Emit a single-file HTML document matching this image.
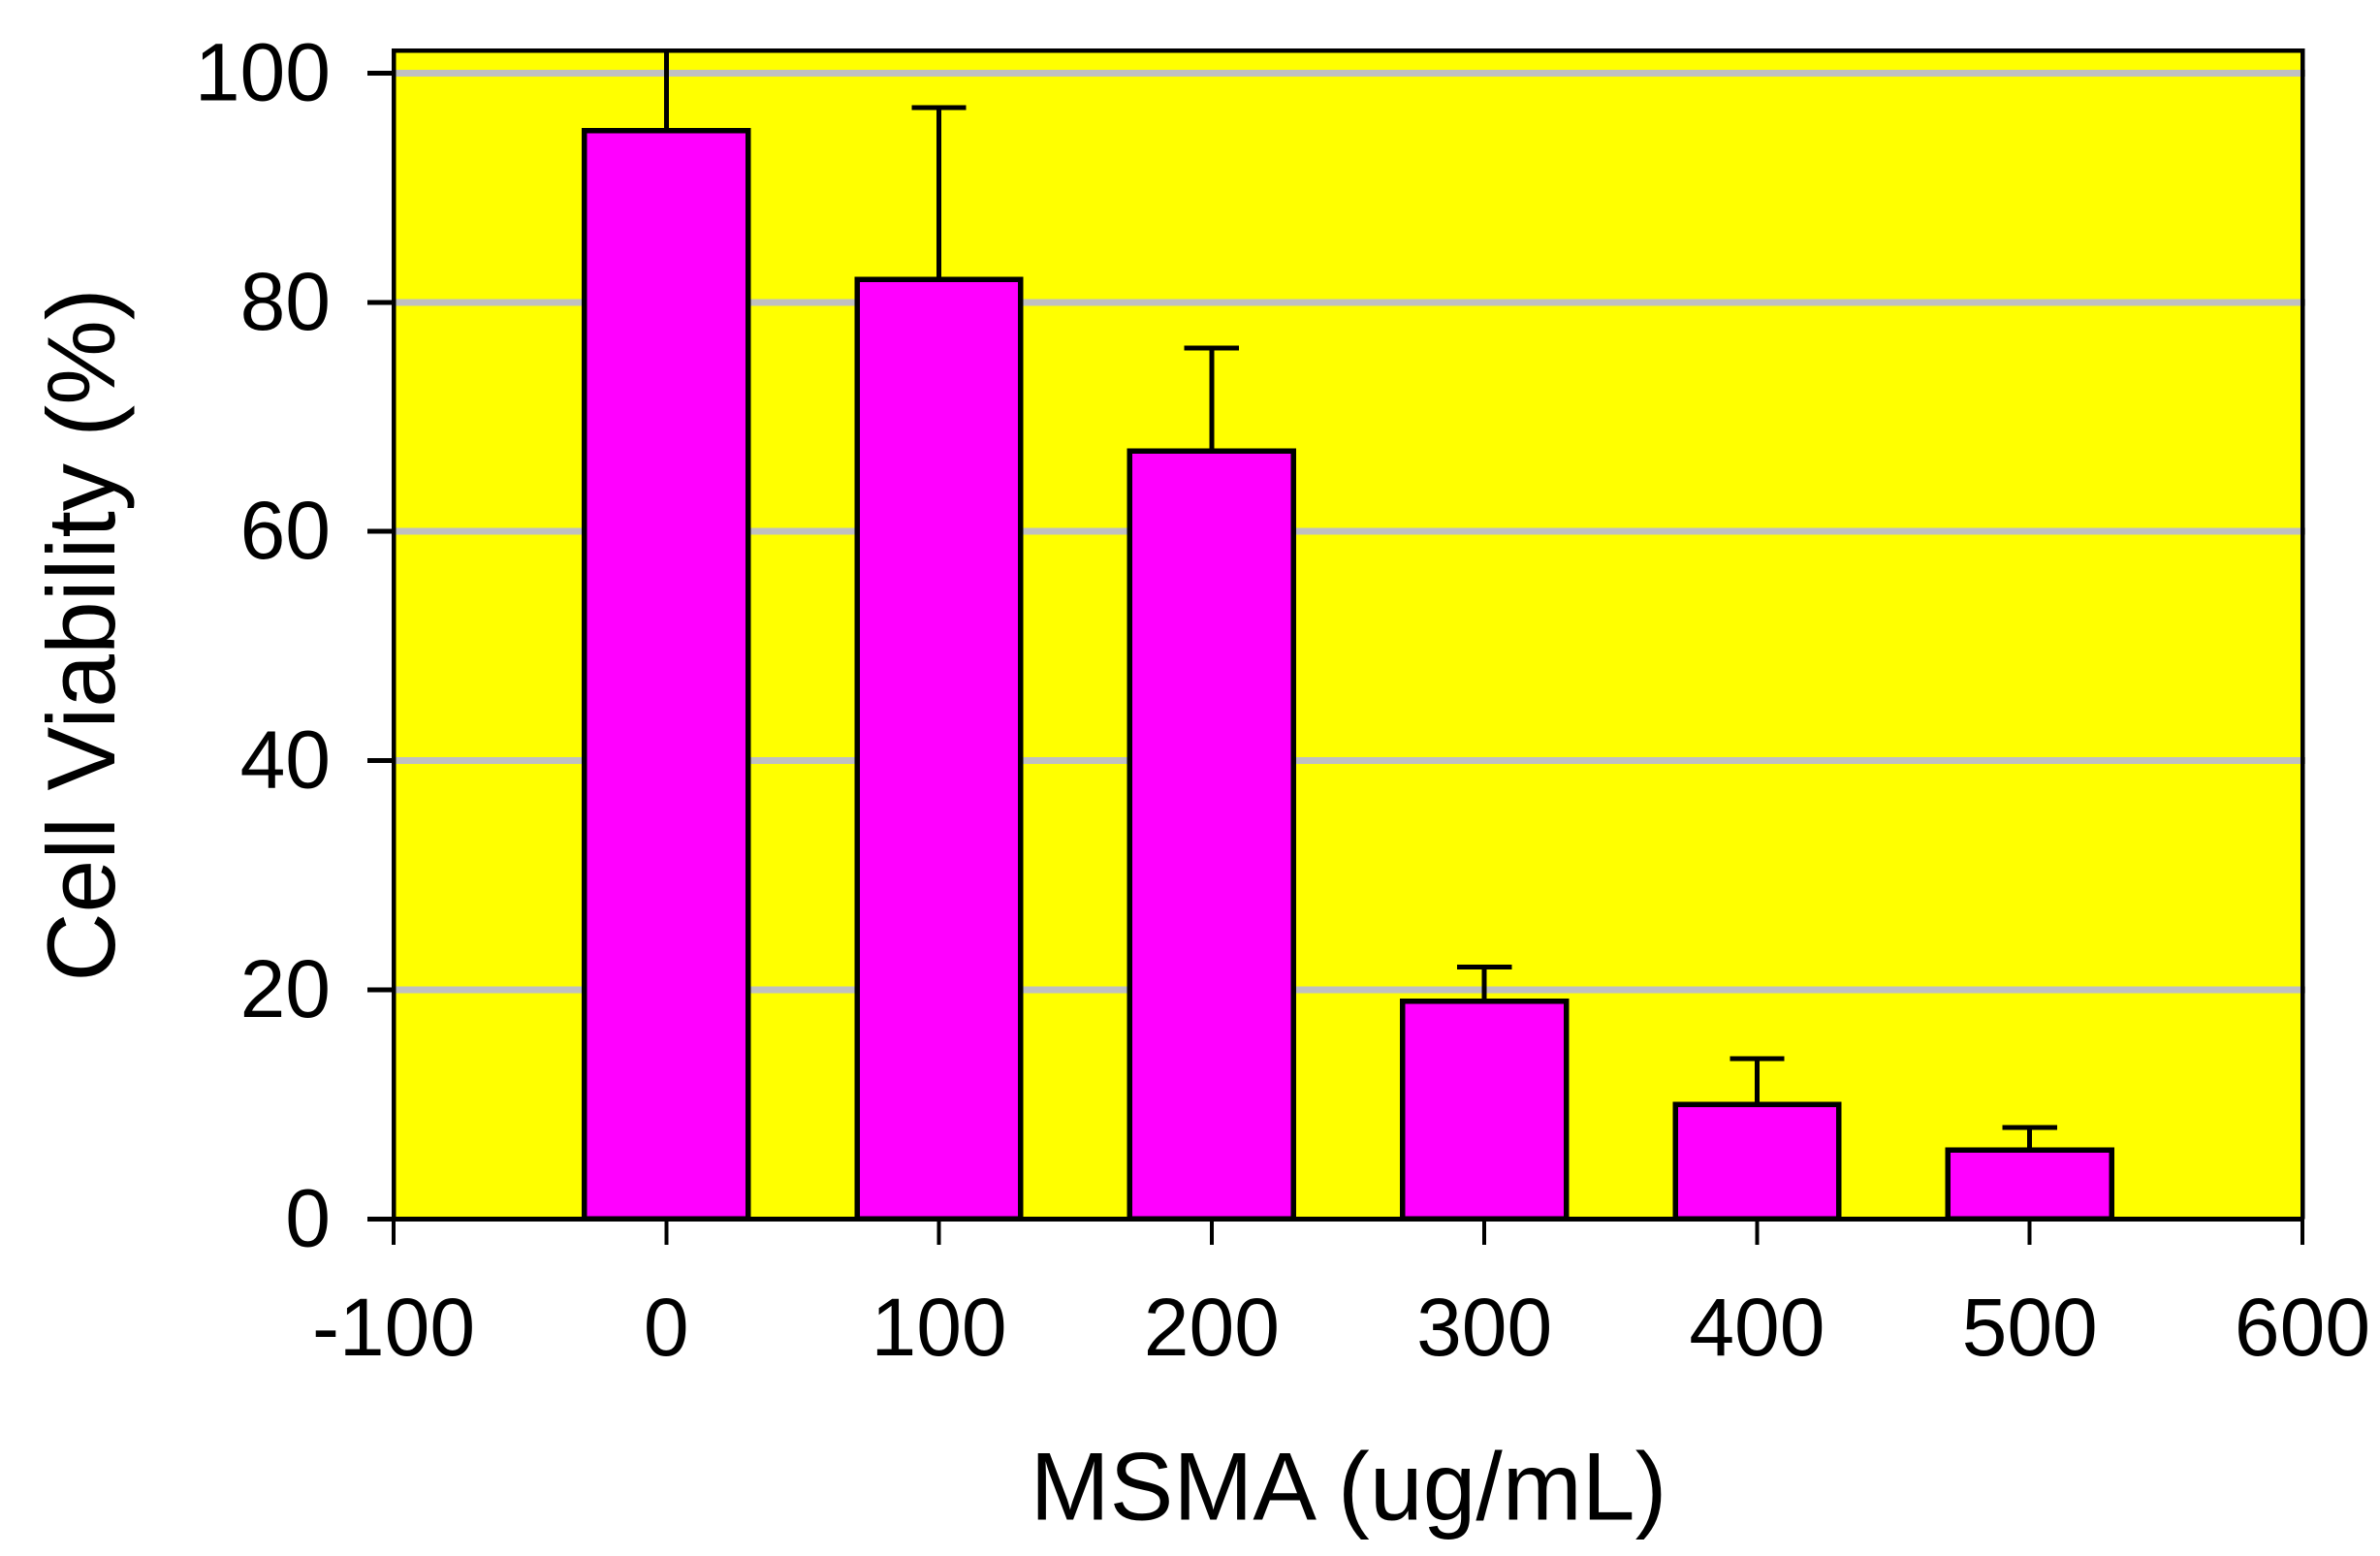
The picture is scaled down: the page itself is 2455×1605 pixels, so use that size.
<!DOCTYPE html>
<html lang="en">
<head>
<meta charset="utf-8">
<title>Cell Viability vs MSMA</title>
<style>
html,body{margin:0;padding:0;background:#fff;width:2455px;height:1605px;overflow:hidden}
svg{display:block}
text{font-family:"Liberation Sans",Arial,sans-serif;fill:#000}
line,rect,path{shape-rendering:crispEdges}
</style>
</head>
<body>
<svg id="chart" xmlns="http://www.w3.org/2000/svg" width="2455" height="1605" viewBox="0 0 2455 1605">
  <defs><clipPath id="plot-clip"><rect x="404" y="50" width="1973" height="1210"></rect></clipPath></defs>
  <rect x="406" y="52" width="1969" height="1205.5" fill="#ffff00"></rect>
  <g id="grid"></g>
  <g id="marks" clip-path="url(#plot-clip)"></g>
  <g id="axes"></g>
  <text transform="translate(1391 1567.5) scale(1 1.01)" font-size="98.5" text-anchor="middle">MSMA (ug/mL)</text>
  <text transform="translate(118 655) rotate(-90) scale(1 1.01)" font-size="98.5" text-anchor="middle">Cell Viability (%)</text>
</svg>
<script>
const categories = [0, 100, 200, 300, 400, 500];
const viability = [95, 82, 67, 19, 10, 6];
const errors = [8, 15, 9, 3, 4, 2];
const xTicks = [-100, 0, 100, 200, 300, 400, 500, 600];
const yTicks = [0, 20, 40, 60, 80, 100];
const gridValues = [20, 40, 60, 80, 100];

const NS = 'http://www.w3.org/2000/svg';
const xScale = v => 406 + (v + 100) * (2375 - 406) / 700;
const yScale = v => 1257.3 - v * (1257.3 - 75.5) / 100;
const BAR_HALF = 30;
const CAP_HALF = 10;

function make(tag, parent, attrs) {
  const el = document.createElementNS(NS, tag);
  for (const k in attrs) el.setAttribute(k, attrs[k]);
  parent.appendChild(el);
  return el;
}

const grid = document.getElementById('grid');
const marks = document.getElementById('marks');
const axes = document.getElementById('axes');

gridValues.forEach(v => {
  const g = make('line', grid, {x1: 406, x2: 2378, y1: yScale(v), y2: yScale(v), stroke: '#c0c0c0', 'stroke-width': 7});
  
  
});

categories.forEach((c, i) => {
  const v = viability[i];
  const top = yScale(v + errors[i]);
  const cx = xScale(c);
  const stem = make('line', marks, {x1: cx, x2: cx, y1: yScale(v), y2: top, stroke: '#000', 'stroke-width': 5});
  
  
  const cap = make('line', marks, {x1: xScale(c - CAP_HALF), x2: xScale(c + CAP_HALF), y1: top, y2: top, stroke: '#000', 'stroke-width': 5});
  
  
  const x0 = xScale(c - BAR_HALF), x1 = xScale(c + BAR_HALF);
  const bar = make('rect', marks, {x: x0, y: yScale(v), width: x1 - x0, height: yScale(0) - yScale(v), fill: '#ff00ff', stroke: '#000', 'stroke-width': 5.5});
  
  
});

const frame = make('path', axes, {d: 'M406 1257.5V52H2375V1257.5', fill: 'none', stroke: '#000', 'stroke-width': 4.5});


const xAxis = make('line', axes, {x1: 379, x2: 2377, y1: yScale(0), y2: yScale(0), stroke: '#000', 'stroke-width': 5});



yTicks.forEach(v => {
  const y = yScale(v);
  const t = make('line', axes, {x1: 379, x2: 406, y1: y, y2: y, stroke: '#000', 'stroke-width': 5});
  
  
  const l = make('text', axes, {x: 341, y: y + 28, 'font-size': 84, 'text-anchor': 'end'});
  
  
  l.textContent = v;
});

xTicks.forEach(v => {
  const x = xScale(v);
  const t = make('line', axes, {x1: x, x2: x, y1: 1257, y2: 1284, stroke: '#000', 'stroke-width': 4});
  
  
  const l = make('text', axes, {x: x, y: 1398, 'font-size': 84, 'text-anchor': 'middle'});
  
  
  l.textContent = v;
});
</script>
</body>
</html>
